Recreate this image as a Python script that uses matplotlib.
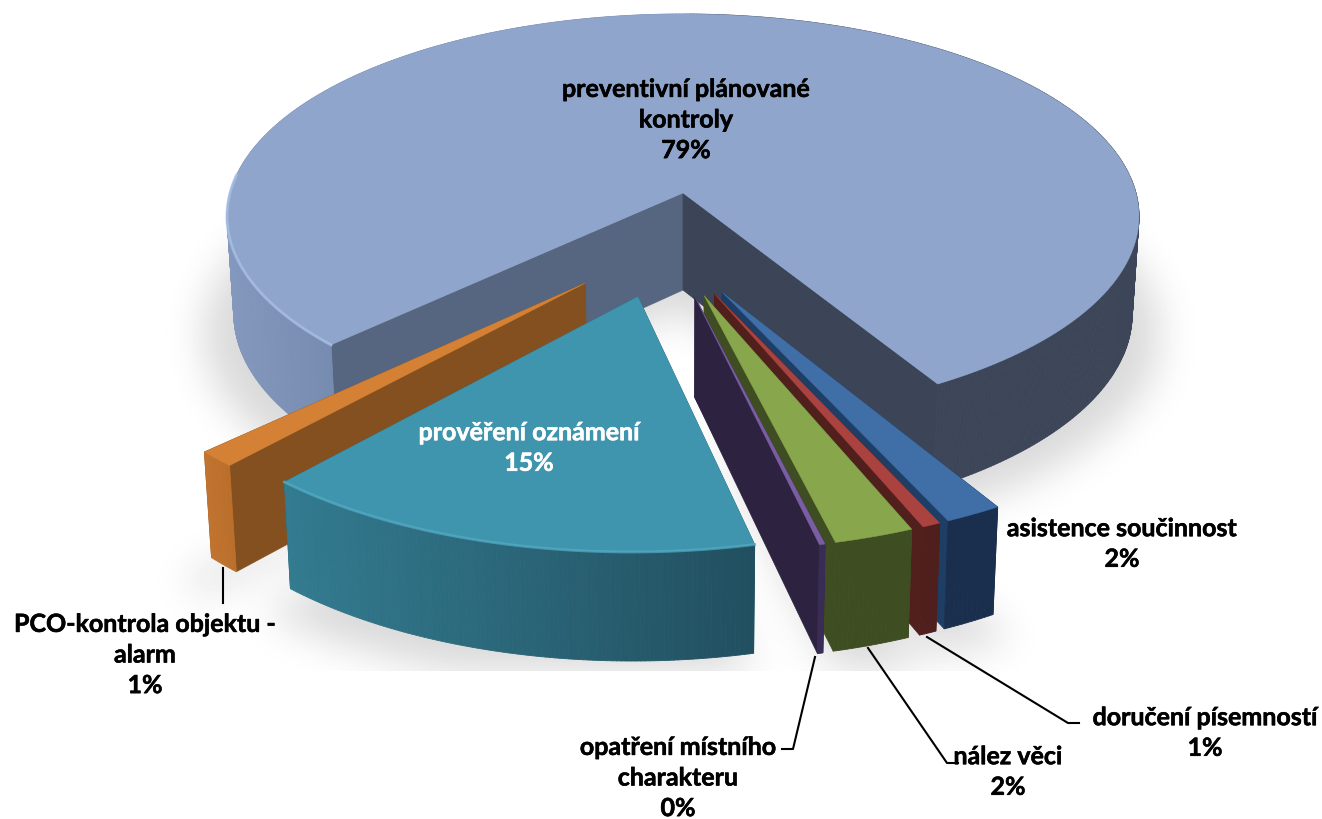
import numpy as np
import matplotlib
matplotlib.use('Agg')
import matplotlib.pyplot as plt
import matplotlib.patheffects as pe
from matplotlib.collections import PolyCollection
from matplotlib.colors import to_rgb
from matplotlib.path import Path

# Data, clockwise starting from the big slice
labels = ['preventivní plánované\nkontroly', 'asistence součinnost', 'doručení písemností',
          'nález věci', 'opatření místního\ncharakteru', 'prověření oznámení',
          'PCO-kontrola objektu -\nalarm']
shares = [78.88, 1.72, 0.55, 2.39, 0.17, 15.1, 1.19]

# Look of each slice
top_colors = ['#8fa5cb', '#3f6fa6', '#aa423f', '#88a64c', '#7a5ea3', '#3f95ad', '#d48136']
start_walls = ['#566680', '#1a2f4d', '#4f1f1d', '#3f4d22', '#2d2240', '#2a6378', '#84501f']
end_walls = ['#3c4557', '#1e3e66', '#511f1c', '#3f4d22', '#2d2240', '#2a6378', '#84501f']
outer_stops = [[(0, '#8498bd'), (0.116, '#768bb0'), (0.5, '#768bb0'), (0.51, '#3c4658'), (1, '#3c4658')],
               [(0, '#1a2f4d'), (1, '#1a2f4d')],
               [(0, '#4f1f1d'), (1, '#4f1f1d')],
               [(0, '#3f4d22'), (1, '#3f4d22')],
               [(0, '#3a2d55'), (1, '#3a2d55')],
               [(0, '#337b90'), (1, '#214f5f')],
               [(0, '#c1742f'), (1, '#b96f2d')]]
draw_order = [0, 6, 5, 1, 2, 3, 4]
text_colors = ['black', 'black', 'black', 'black', 'black', 'white', 'black']
text_pos = [(686, 120), (1122, 544), (1205, 733), (1008, 772), (678, 778), (529, 448), (145, 655)]

# Camera of the 3D pie
CX, CY = 683, 193
A, B, K = 453, 199.6, 0.115
H = 97
EXPLODE = 0.25
START = 225.6


def project(X, Y):
    s = 1 / (1 + K * Y)
    return CX + A * X * s, CY - B * Y * s, s


def drop(x, y, s):
    return CX + (x - CX) * 0.985, y + H * (1 + 0.6 * (s - 1))


def stop_color(stops, t):
    pos = [p for p, c in stops]
    rgb = np.array([to_rgb(c) for p, c in stops])
    return [np.interp(t, pos, rgb[:, i]) for i in range(3)]


def slice_shape(a0, span, centre):
    ang = np.radians(np.linspace(a0, a0 + span, max(int(span * 2), 8)))
    ux, uy = np.sin(np.radians(a0 + span / 2)), np.cos(np.radians(a0 + span / 2))
    ox, oy = centre[0] + EXPLODE * ux, centre[1] + EXPLODE * uy
    x, y, s = project(ox + np.sin(ang), oy + np.cos(ang))
    xb, yb = drop(x, y, s)
    ax0, ay0, as0 = project(ox, oy)
    bx0, by0 = drop(ax0, ay0, as0)
    return x, y, xb, yb, ax0, ay0, bx0, by0


def draw_slice(ax, i, shape, z):
    x, y, xb, yb, ax0, ay0, bx0, by0 = shape

    # walls along the two radii
    for k, col in ((0, start_walls[i]), (-1, end_walls[i])):
        ax.fill([ax0, x[k], xb[k], bx0], [ay0, y[k], yb[k], by0], color=col, lw=0.5, zorder=z)

    # outer wall as thin strips so it can carry a gradient
    polys, cols = [], []
    for j in range(len(x) - 1):
        polys.append([(x[j], y[j]), (x[j + 1], y[j + 1]), (xb[j + 1], yb[j + 1]), (xb[j], yb[j])])
        t = ((x[j] + x[j + 1]) / 2 - x.min()) / (x.max() - x.min())
        if i == 0 and j >= len(x) / 2:
            t = 1  # big slice: arc runs left side -> back -> right side
        cols.append(stop_color(outer_stops[i], t))
    ax.add_collection(PolyCollection(polys, facecolors=cols, edgecolors=cols, linewidths=0.6, zorder=z + 0.1))

    ax.fill(np.r_[ax0, x], np.r_[ay0, y], color=top_colors[i], lw=0.3, zorder=z + 0.2)


def floor_shadow(shapes):
    # blurred copy of the slice bottoms, a bit bigger and lower than the pie
    step = 4
    gx, gy = np.meshgrid(np.arange(0, 1322 + step, step), np.arange(0, 671 + step, step))
    pts = np.c_[gx.ravel(), gy.ravel()]
    mask = np.zeros(gx.shape)
    for x, y, xb, yb, ax0, ay0, bx0, by0 in shapes:
        px = CX + (np.r_[bx0, xb] - CX) * 1.07
        py = 400 + (np.r_[by0, yb] - 400) * 1.02 + 22
        mask[Path(np.c_[px, py]).contains_points(pts).reshape(gx.shape)] = 1
    t = np.arange(-15, 16)
    kern = np.exp(-0.5 * (t / 5.0) ** 2)
    kern /= kern.sum()
    mask = np.apply_along_axis(lambda v: np.convolve(v, kern, mode='same'), 0, mask)
    mask = np.apply_along_axis(lambda v: np.convolve(v, kern, mode='same'), 1, mask)
    return mask


fig = plt.figure(figsize=(13.22, 8.19), dpi=100)
ax = fig.add_axes([0, 0, 1, 1])

# angles come from the shares, the shared centre sits behind the big slice's apex
spans = np.array(shares) / sum(shares) * 360
starts = START + np.r_[0, np.cumsum(spans)[:-1]]
mid = np.radians(starts[0] + spans[0] / 2)
centre = (-EXPLODE * np.sin(mid), -EXPLODE * np.cos(mid))
shapes = [slice_shape(starts[i], spans[i], centre) for i in range(len(shares))]

ax.imshow(1 - 0.15 * floor_shadow(shapes), cmap='gray', vmin=0, vmax=1, extent=(0, 1322, 671, 0),
          interpolation='bilinear', aspect='auto', zorder=0)
ax.set_xlim(0, 1322)
ax.set_ylim(819, 0)
ax.axis('off')

for z, i in enumerate(draw_order):
    draw_slice(ax, i, shapes[i], 2 + z)

# light bevel along the front rims
ax.plot(shapes[0][0][:100], shapes[0][1][:100], color='#a9c0e6', lw=2.0, alpha=0.8, zorder=2.5)
ax.plot(shapes[5][0], shapes[5][1], color='#55adc6', lw=2.0, alpha=0.7, zorder=2 + draw_order.index(5) + 0.5)

# leader lines
leaders = [([223, 223], [568, 603]),
           ([815, 793, 782], [657, 749, 749]),
           ([868, 947, 958], [648, 763, 763]),
           ([927, 1068, 1079], [637, 723, 723])]
for lx, ly in leaders:
    ax.plot(lx, ly, color='black', lw=1.5, zorder=20)

for i in range(len(labels)):
    ax.text(text_pos[i][0], text_pos[i][1], f'{labels[i]}\n{round(shares[i])}%', ha='center', va='center',
            family='Lato', weight='bold', fontsize=18, color=text_colors[i], linespacing=1.4, zorder=30,
            path_effects=[pe.withStroke(linewidth=0.4, foreground=text_colors[i])])

fig.savefig('out.png', dpi=100)
